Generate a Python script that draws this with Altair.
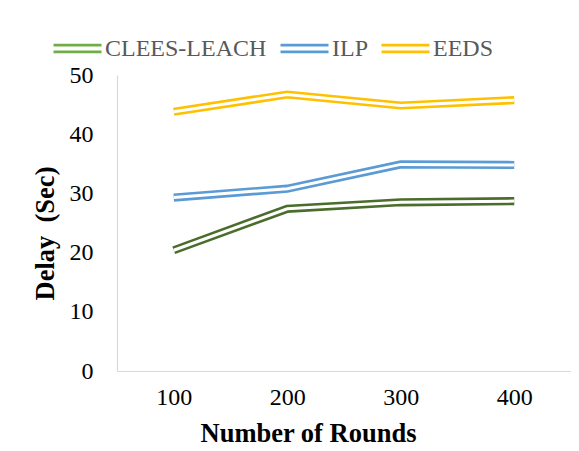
import altair as alt
import pandas as pd

rounds = [100, 200, 300, 400]
series_names = ["CLEES-LEACH", "ILP", "EEDS"]
clees_leach = [20.4, 27.4, 28.5, 28.7]
ilp = [29.3, 30.8, 34.9, 34.8]
eeds = [43.8, 46.7, 44.85, 45.75]
y_ticks = [0, 10, 20, 30, 40, 50]
line_colors = ["#4A6D2B", "#5B9BD5", "#FFC000"]
legend_colors = ["#70AD47", "#5B9BD5", "#FFC000"]

rows = []
for name, vals in zip(series_names, [clees_leach, ilp, eeds]):
    for r, v in zip(rounds, vals):
        rows.append({"Round": r, "Delay": v, "Series": name})
df = pd.DataFrame(rows)

FONT = "Liberation Serif"

x = alt.X(
    "Round:O",
    scale=alt.Scale(type="point", padding=0.5),
    axis=alt.Axis(
        title="Number of Rounds", labelAngle=0, labelPadding=14,
        titleX=191, titleY=62, titleBaseline="middle", titleAlign="center",
    ),
)
y = alt.Y(
    "Delay:Q",
    scale=alt.Scale(domain=[0, 50], nice=False),
    axis=alt.Axis(
        values=y_ticks, title="Delay\u00a0 (Sec)", labelPadding=24,
        titleX=-72, titleY=158, titleBaseline="middle", titleAlign="center", titleAngle=-90,
    ),
)

base = alt.Chart(df)

legend_layer = base.mark_line(opacity=0, strokeWidth=2.5).encode(
    x=x, y=y,
    color=alt.Color(
        "Series:N",
        scale=alt.Scale(domain=series_names, range=legend_colors),
        legend=alt.Legend(
            title=None, orient="none", direction="horizontal",
            legendX=-65, legendY=-52, gridAlign="none",
            symbolType="M-1,-0.14H1M-1,0.14H1",
            symbolSize=2304, symbolStrokeWidth=2.6, symbolOpacity=1,
            labelFont=FONT, labelFontSize=24, labelColor="#595959",
            labelOffset=2, columnPadding=8, labelLimit=0,
        ),
    ),
)

outer = base.mark_line(strokeWidth=8.2, strokeCap="butt", strokeJoin="miter").encode(
    x=x, y=y,
    color=alt.Color(
        "Series:N",
        scale=alt.Scale(domain=series_names, range=line_colors),
        legend=None,
    ),
)

inner = base.mark_line(strokeWidth=3, color="white", strokeCap="butt", strokeJoin="miter").encode(
    x=x, y=y, detail="Series:N",
)

chart = (
    alt.layer(legend_layer, outer, inner)
    .resolve_scale(color="independent")
    .properties(
        width=454, height=296,
        autosize=alt.AutoSizeParams(type="none"),
        padding={"left": 109, "top": 67, "right": 0, "bottom": 76},
    )
    .configure_view(stroke=None)
    .configure_axis(
        grid=False, ticks=False, domainColor="#D9D9D9", domainWidth=1.2,
        labelFont=FONT, labelFontSize=24, labelColor="black",
        titleFont=FONT, titleFontSize=26.5, titleFontWeight="bold", titleColor="black",
    )
)

chart.save("out.html", embed_options={"renderer": "svg", "actions": False})
